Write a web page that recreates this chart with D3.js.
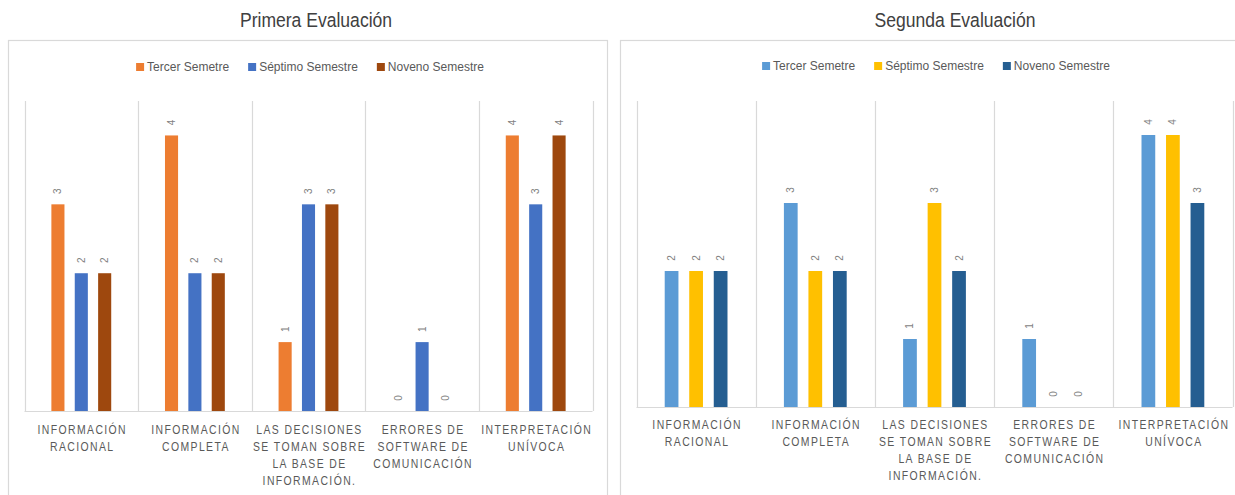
<!DOCTYPE html>
<html>
<head>
<meta charset="utf-8">
<script src="https://cdn.jsdelivr.net/npm/d3@7"></script>
<style>
  html, body { margin: 0; padding: 0; background: #ffffff; }
  svg { display: block; }
</style>
</head>
<body>
<svg id="chart" width="1235" height="495"></svg>
<script>
// ---- data ----
const categories = [
  ["INFORMACIÓN", "RACIONAL"],
  ["INFORMACIÓN", "COMPLETA"],
  ["LAS DECISIONES", "SE TOMAN SOBRE", "LA BASE DE", "INFORMACIÓN."],
  ["ERRORES DE", "SOFTWARE DE", "COMUNICACIÓN"],
  ["INTERPRETACIÓN", "UNÍVOCA"]
];
const seriesNames = ["Tercer Semetre", "Séptimo Semestre", "Noveno Semestre"];

const primeraTercer  = [3, 4, 1, 0, 4];
const primeraSeptimo = [2, 2, 3, 1, 3];
const primeraNoveno  = [2, 2, 3, 0, 4];

const segundaTercer  = [2, 3, 1, 1, 4];
const segundaSeptimo = [2, 2, 3, 0, 4];
const segundaNoveno  = [2, 2, 2, 0, 3];

const yMax = 4.5;

// ---- layout of the two panels ----
const panels = [
  {
    title: "Primera Evaluación",
    series: [primeraTercer, primeraSeptimo, primeraNoveno],
    colors: ["#ED7D31", "#4472C4", "#9E480E"],
    box: { x0: 8.5, x1: 607.5, y0: 40.5, y1: 500 },
    titleX: 316, titleY: 27,
    legendCX: 310, legendY: 67,
    plot: { left: 24.5, right: 592.5, top: 101, bottom: 411 },
    labelY: 434
  },
  {
    title: "Segunda Evaluación",
    series: [segundaTercer, segundaSeptimo, segundaNoveno],
    colors: ["#5B9BD5", "#FFC000", "#255E91"],
    box: { x0: 620.5, x1: 1250, y0: 40.5, y1: 500 },
    titleX: 955, titleY: 27,
    legendCX: 936, legendY: 66,
    plot: { left: 636.5, right: 1232.5, top: 101, bottom: 407 },
    labelY: 429
  }
];

const FONT = "'Liberation Sans', Arial, sans-serif";
const svg = d3.select("#chart");

panels.forEach(p => {
  const g = svg.append("g");

  // frame
  g.append("rect")
    .attr("x", p.box.x0).attr("y", p.box.y0)
    .attr("width", p.box.x1 - p.box.x0).attr("height", p.box.y1 - p.box.y0)
    .attr("fill", "#ffffff").attr("stroke", "#d9d9d9").attr("stroke-width", 1.2);

  // title (slightly condensed)
  svg.append("text")
    .attr("transform", `translate(${p.titleX},${p.titleY}) scale(0.9,1)`)
    .attr("text-anchor", "middle")
    .attr("font-family", FONT).attr("font-size", 19.5)
    .attr("fill", "#404040")
    .text(p.title);

  // scales
  const x = d3.scaleBand()
    .domain(d3.range(categories.length))
    .range([p.plot.left, p.plot.right])
    .padding(0);
  const xInner = d3.scaleBand()
    .domain(d3.range(seriesNames.length))
    .range([0, x.bandwidth()])
    .paddingInner(0.44)
    .paddingOuter(1.15);
  const y = d3.scaleLinear().domain([0, yMax]).range([p.plot.bottom, p.plot.top]);

  // category separators
  const edges = d3.range(categories.length + 1).map(i =>
    i < categories.length ? x(i) : x(categories.length - 1) + x.bandwidth());
  g.selectAll("line.sep").data(edges).join("line")
    .attr("class", "sep")
    .attr("x1", d => Math.round(d) + 0.5).attr("x2", d => Math.round(d) + 0.5)
    .attr("y1", y(yMax)).attr("y2", y(0))
    .attr("stroke", "#d9d9d9").attr("stroke-width", 1.2);

  // baseline
  g.append("line")
    .attr("x1", p.plot.left).attr("x2", p.plot.right)
    .attr("y1", y(0) + 0.5).attr("y2", y(0) + 0.5)
    .attr("stroke", "#d9d9d9").attr("stroke-width", 1.2);

  // bars + rotated value labels
  p.series.forEach((vals, si) => {
    const sg = g.append("g");
    sg.selectAll("rect").data(vals).join("rect")
      .attr("x", (d, ci) => x(ci) + xInner(si))
      .attr("width", xInner.bandwidth())
      .attr("y", d => y(d))
      .attr("height", d => y(0) - y(d))
      .attr("fill", p.colors[si]);
    sg.selectAll("text").data(vals).join("text")
      .attr("transform", (d, ci) => {
        const cx = x(ci) + xInner(si) + xInner.bandwidth() / 2;
        return `translate(${cx},${y(d) - 13}) rotate(-90)`;
      })
      .attr("text-anchor", "middle")
      .attr("dominant-baseline", "central")
      .attr("font-family", FONT).attr("font-size", 10)
      .attr("fill", "#7f7f7f")
      .text(d => d);
  });

  // category labels (letter-spaced, condensed)
  categories.forEach((lines, ci) => {
    const cx = x(ci) + x.bandwidth() / 2 + 1;
    const t = g.append("text")
      .attr("transform", `translate(${cx},${p.labelY}) scale(0.87,1)`)
      .attr("text-anchor", "middle")
      .attr("font-family", FONT).attr("font-size", 12)
      .attr("letter-spacing", 1.6)
      .attr("fill", "#595959");
    lines.forEach((ln, li) => {
      t.append("tspan")
        .attr("x", 0)
        .attr("y", li * 17)
        .text(ln);
    });
  });

  // legend, centred on the panel
  const lg = g.append("g");
  const items = lg.selectAll("g").data(seriesNames).join("g");
  items.append("rect")
    .attr("width", 8).attr("height", 8)
    .attr("y", -4)
    .attr("fill", (d, i) => p.colors[i]);
  items.append("text")
    .attr("x", 11).attr("dy", "0.35em")
    .attr("font-family", FONT).attr("font-size", 12)
    .attr("fill", "#595959")
    .text(d => d);
  let cursor = 0;
  items.each(function () {
    const w = 11 + d3.select(this).select("text").node().getComputedTextLength();
    d3.select(this).attr("transform", `translate(${cursor},0)`);
    cursor += w + 19;
  });
  const total = cursor - 19;
  lg.attr("transform", `translate(${p.legendCX - total / 2},${p.legendY})`);
});
</script>
</body>
</html>
